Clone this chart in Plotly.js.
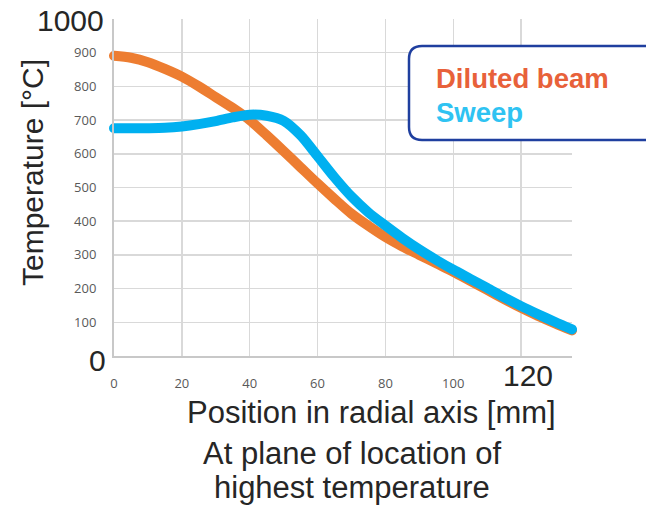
<!DOCTYPE html>
<html>
<head>
<meta charset="utf-8">
<script src="https://cdn.plot.ly/plotly-3.0.1.min.js"></script>
<style>
html,body{margin:0;padding:0;background:#fff;}
#chart{width:646px;height:508px;}
.scatterlayer path.js-line{stroke-linecap:round !important;stroke-linejoin:round !important;}
.cartesianlayer g, .scatterlayer, .scatterlayer g{clip-path:none !important;}
</style>
</head>
<body>
<div id="chart"></div>
<script>
// ---- data ----
var positions = [0,5,10,15,20,25,30,35,40,45,50,55,60,65,70,75,80,85,90,95,100,105,110,115,120,125,130,135];
var dilutedBeam = [891,885,872,852,829,800,768,736,700,655,608,560,512,466,422,386,353,325,300,275,250,223,196,169,143,119,97,76];
var sweep = [676,676,676,677,681,688,697,708,716,713,698,655,593,530,473,426,387,350,316,285,256,229,202,174,148,124,101,79];
var seriesNames = ['Diluted beam','Sweep'];
var xTickVals = [0,20,40,60,80,100,120];
var xTickText = ['0','20','40','60','80','100',''];
var yTickVals = [0,100,200,300,400,500,600,700,800,900];
var yTickText = ['','100','200','300','400','500','600','700','800','900'];
var bigLabels = ['1000','0','120'];

// ---- layout helpers (pixel -> paper) ----
var L=114, T=19, W=458, H=337;
function px(x){return (x-L)/W;}
function py(y){return (T+H-y)/H;}
function pt(x,y){return px(x).toFixed(4)+','+py(y).toFixed(4);}

var bl=409, bt=46, bb=140, br=670, r=13;
var boxPath = 'M'+pt(bl+r,bt)+' L'+pt(br,bt)+' L'+pt(br,bb)+' L'+pt(bl+r,bb)+
  ' Q'+pt(bl,bb)+' '+pt(bl,bb-r)+' L'+pt(bl,bt+r)+' Q'+pt(bl,bt)+' '+pt(bl+r,bt)+' Z';

var traces = [
  {x:positions, y:dilutedBeam, name:seriesNames[0], type:'scatter', mode:'lines',
   line:{color:'#ED7D31', width:10, shape:'spline', smoothing:0.8}},
  {x:positions, y:sweep, name:seriesNames[1], type:'scatter', mode:'lines',
   line:{color:'#00B0F0', width:10, shape:'spline', smoothing:0.8}}
];

var bigFont = {family:'Liberation Sans, Arial, sans-serif', size:30, color:'#262626'};
var ytitleFont = {family:'Liberation Sans, Arial, sans-serif', size:30, color:'#262626'};
var xtitleFont = {family:'Liberation Sans, Arial, sans-serif', size:31, color:'#262626'};

var layout = {
  width:646, height:508,
  margin:{l:L, r:646-L-W, t:T, b:508-T-H, pad:0},
  paper_bgcolor:'#fff', plot_bgcolor:'#fff',
  showlegend:false,
  xaxis:{range:[0,135], tickmode:'array', tickvals:xTickVals, ticktext:xTickText,
    showgrid:true, gridcolor:'#d9d9d9', gridwidth:1.5, zeroline:false,
    showline:true, linecolor:'#c8c8c8', linewidth:2, ticks:'', ticklabelstandoff:14,
    tickfont:{family:'Open Sans, sans-serif', size:13, color:'#595959'}},
  yaxis:{range:[0,1000], tickmode:'array', tickvals:yTickVals, ticktext:yTickText,
    showgrid:true, gridcolor:'#d9d9d9', gridwidth:1.5, zeroline:false,
    showline:true, linecolor:'#c8c8c8', linewidth:2, ticks:'', ticklabelstandoff:13,
    tickfont:{family:'Open Sans, sans-serif', size:13, color:'#595959'}},
  shapes:[{type:'path', xref:'paper', yref:'paper', path:boxPath,
    line:{color:'#1F3F9F', width:2.5}, fillcolor:'rgba(255,255,255,1)', layer:'above'}],
  annotations:[
    {xref:'paper', yref:'paper', x:px(70), y:py(21), text:bigLabels[0], showarrow:false, font:bigFont, xanchor:'center', yanchor:'middle'},
    {xref:'paper', yref:'paper', x:px(97), y:py(360), text:bigLabels[1], showarrow:false, font:bigFont, xanchor:'center', yanchor:'middle'},
    {xref:'paper', yref:'paper', x:px(528), y:py(375), text:bigLabels[2], showarrow:false, font:bigFont, xanchor:'center', yanchor:'middle'},
    {xref:'paper', yref:'paper', x:px(32), y:py(173), text:'Temperature [°C]', textangle:-90, showarrow:false, font:ytitleFont, xanchor:'center', yanchor:'middle'},
    {xref:'paper', yref:'paper', x:px(371), y:py(412), text:'Position in radial axis [mm]', showarrow:false, font:xtitleFont, xanchor:'center', yanchor:'middle'},
    {xref:'paper', yref:'paper', x:px(352), y:py(453), text:'At plane of location of', showarrow:false, font:xtitleFont, xanchor:'center', yanchor:'middle'},
    {xref:'paper', yref:'paper', x:px(352), y:py(487), text:'highest temperature', showarrow:false, font:xtitleFont, xanchor:'center', yanchor:'middle'},
    {xref:'paper', yref:'paper', x:px(434), y:py(78), text:'<b>'+seriesNames[0]+'</b>', showarrow:false, font:{family:'Liberation Sans, Arial, sans-serif', size:27.5, color:'#E8613A'}, xanchor:'left', yanchor:'middle'},
    {xref:'paper', yref:'paper', x:px(434), y:py(112), text:'<b>'+seriesNames[1]+'</b>', showarrow:false, font:{family:'Liberation Sans, Arial, sans-serif', size:27.5, color:'#2FC3F2'}, xanchor:'left', yanchor:'middle'}
  ]
};

Plotly.newPlot('chart', traces, layout, {displayModeBar:false, staticPlot:true}).then(function(gd){
  var els = gd.querySelectorAll('.cartesianlayer [clip-path], .cartesianlayer[clip-path]');
  for (var i=0;i<els.length;i++){ els[i].removeAttribute('clip-path'); }
});
</script>
</body>
</html>
